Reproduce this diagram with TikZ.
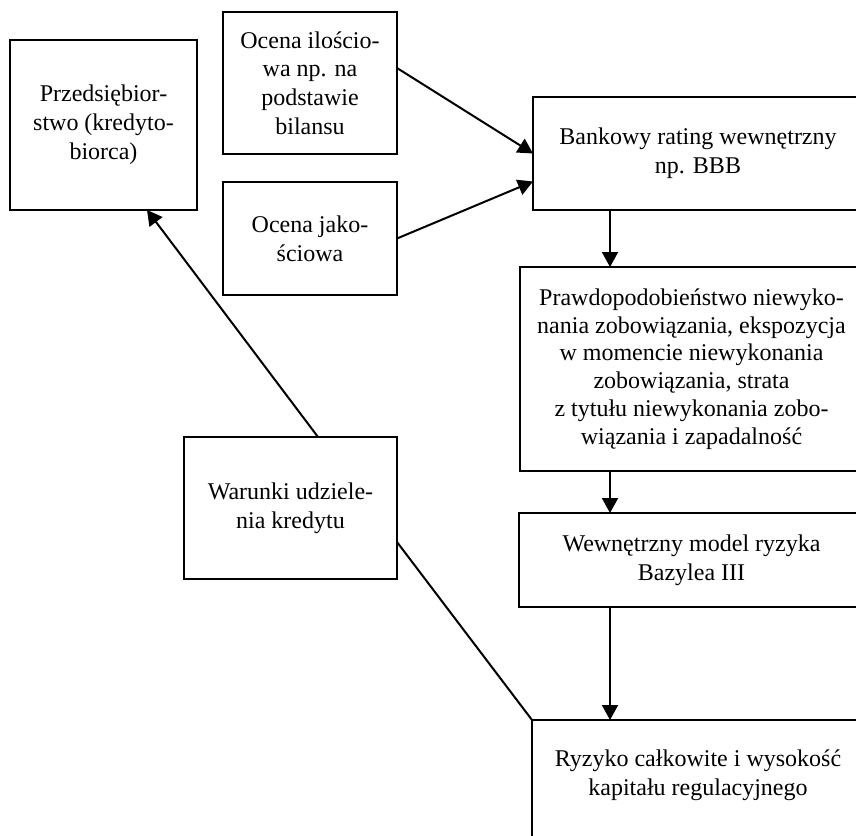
\documentclass[tikz,border=0pt]{standalone}
\usepackage{fontspec}
\setmainfont{Liberation Serif}
\usetikzlibrary{arrows.meta}
\begin{document}
\begin{tikzpicture}[x=1pt,y=-1pt,
  box/.style={draw=black, line width=2pt, rectangle, inner sep=0pt, outer sep=0pt, align=center,
    font=\fontsize{24}{28.8}\selectfont},
  txt/.style={inner sep=0pt, align=center, font=\fontsize{24}{28.8}\selectfont},
  arr/.style={line width=2pt, -{Triangle[length=15pt,width=16pt]}},
  ln/.style={line width=2pt}]
\useasboundingbox (0,0) rectangle (856,835);
\clip (0,0) rectangle (856,835);
\node[box, minimum width=187pt, minimum height=170pt] (firm) at (103.5,125) {Przedsiębior-\\stwo (kredyto-\\biorca)};
\node[box, minimum width=174pt, minimum height=142pt] (ilosc) at (310,83) {Ocena ilościo-\\wa np. na\\podstawie\\bilansu};
\node[box, minimum width=174pt, minimum height=113pt] (jakosc) at (310,238.5) {Ocena jako-\\ściowa};
\node[box, minimum width=330pt, minimum height=113pt] (bank) at (698,153.5) {Bankowy rating wewnętrzny\\np. BBB};
\node[box, minimum width=343pt, minimum height=204pt, font=\fontsize{24}{27.8}\selectfont] (prob) at (691.5,369) {Prawdopodobieństwo niewyko-\\nania zobowiązania, ekspozycja\\w momencie niewykonania\\zobowiązania, strata\\z tytułu niewykonania zobo-\\wiązania i zapadalność};
\node[box, minimum width=345pt, minimum height=94pt] (model) at (691.5,560) {Wewnętrzny model ryzyka\\Bazylea III};
\node[box, minimum width=213pt, minimum height=142pt] (war) at (290.5,508) {Warunki udziele-\\nia kredytu};
\node[box, minimum width=332pt, minimum height=140pt, anchor=north west] (risk) at (532,720) {};
\node[txt] (risktext) at (698,775) {Ryzyko całkowite i wysokość\\kapitału regulacyjnego};
\draw[arr] ([yshift=15pt]ilosc.east) -- (bank.west);
\draw[arr] (jakosc.east) -- ([yshift=-28pt]bank.west);
\draw[arr] ([xshift=77pt]bank.south west) -- ([xshift=90pt]prob.north west);
\draw[arr] ([xshift=90pt]prob.south west) -- ([xshift=91pt]model.north west);
\draw[arr] ([xshift=91pt]model.south west) -- ([xshift=78pt]risk.north west);
\draw[arr] ([xshift=27.5pt]war.north) -- ([xshift=43.5pt]firm.south);
\draw[ln] ([yshift=-34pt]war.east) -- (risk.north west);
\end{tikzpicture}
\end{document}
